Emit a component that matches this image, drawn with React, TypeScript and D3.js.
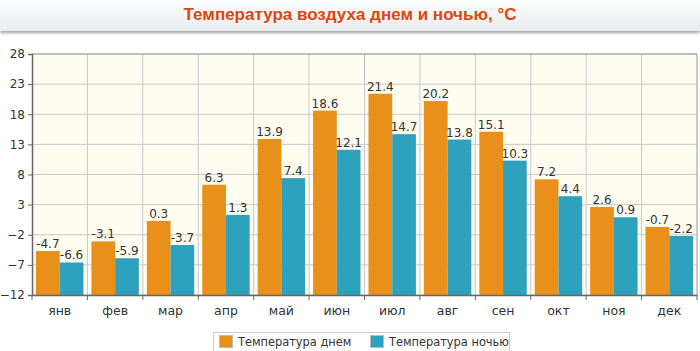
import React, { useEffect, useRef } from "react";
import * as d3 from "d3";

const months = ["янв", "фев", "мар", "апр", "май", "июн", "июл", "авг", "сен", "окт", "ноя", "дек"];
const dayTemps = [-4.7, -3.1, 0.3, 6.3, 13.9, 18.6, 21.4, 20.2, 15.1, 7.2, 2.6, -0.7];
const nightTemps = [-6.6, -5.9, -3.7, 1.3, 7.4, 12.1, 14.7, 13.8, 10.3, 4.4, 0.9, -2.2];
const yTicks = [-12, -7, -2, 3, 8, 13, 18, 23, 28];
const seriesNames = ["Температура днем", "Температура ночью"];
const seriesColors = ["#e8901a", "#2ea2bd"];

const App: React.FC = () => {
  const svgRef = useRef<SVGSVGElement | null>(null);
  const width = 700;
  const height = 351;

  useEffect(() => {
    const svg = d3.select(svgRef.current);
    svg.selectAll("*").remove();

    const left = 32;
    const right = 697;
    const top = 54;
    const bottom = 295;
    const font = "'DejaVu Sans', Verdana, sans-serif";

    // title band
    const defs = svg.append("defs");
    const grad = defs.append("linearGradient").attr("id", "titleGrad").attr("x1", 0).attr("y1", 0).attr("x2", 0).attr("y2", 1);
    grad.append("stop").attr("offset", "0%").attr("stop-color", "#ffffff");
    grad.append("stop").attr("offset", "100%").attr("stop-color", "#e9ecee");
    const shadow = defs.append("filter").attr("id", "shadow").attr("x", "-5%").attr("y", "-20%").attr("width", "110%").attr("height", "160%");
    shadow.append("feDropShadow").attr("dx", 0).attr("dy", 2).attr("stdDeviation", 1.5).attr("flood-color", "#000").attr("flood-opacity", 0.35);

    svg.append("rect").attr("x", 0).attr("y", -5).attr("width", 700).attr("height", 36).attr("fill", "url(#titleGrad)").attr("filter", "url(#shadow)");
    svg
      .append("text")
      .text("Температура воздуха днем и ночью, °C")
      .attr("x", 350)
      .attr("y", 20)
      .attr("text-anchor", "middle")
      .attr("font-family", "'Liberation Sans Narrow', 'Arial Narrow', sans-serif")
      .attr("font-weight", "bold")
      .attr("font-size", "17px")
      .attr("fill", "#de460b");

    const x0 = d3.scaleBand().domain(months).range([left, right]).paddingInner(0).paddingOuter(0);
    const x1 = d3.scaleBand().domain(["0", "1"]).range([4, x0.bandwidth() - 4]);
    const y = d3.scaleLinear().domain([-12, 28]).range([bottom, top]);

    svg.append("rect").attr("x", left).attr("y", top).attr("width", right - left).attr("height", bottom - top).attr("fill", "#fffcf0");

    // grid
    svg
      .append("g")
      .selectAll("line")
      .data(yTicks)
      .enter()
      .append("line")
      .attr("x1", left)
      .attr("x2", right)
      .attr("y1", (d) => y(d))
      .attr("y2", (d) => y(d))
      .attr("stroke", "#c8c8c8");
    svg
      .append("g")
      .selectAll("line")
      .data(months.slice(1))
      .enter()
      .append("line")
      .attr("x1", (d) => x0(d) as number)
      .attr("x2", (d) => x0(d) as number)
      .attr("y1", top)
      .attr("y2", bottom)
      .attr("stroke", "#c8c8c8");

    // bars
    const series = [dayTemps, nightTemps];
    series.forEach((vals, si) => {
      const g = svg.append("g");
      g.selectAll("rect")
        .data(vals)
        .enter()
        .append("rect")
        .attr("x", (d, i) => (x0(months[i]) as number) + (x1(String(si)) as number))
        .attr("y", (d) => y(d))
        .attr("width", x1.bandwidth())
        .attr("height", (d) => y(-12) - y(d))
        .attr("fill", seriesColors[si]);
      g.selectAll("text")
        .data(vals)
        .enter()
        .append("text")
        .text((d) => String(d))
        .attr("x", (d, i) => (x0(months[i]) as number) + (x1(String(si)) as number) + x1.bandwidth() / 2)
        .attr("y", (d) => y(d) - 3)
        .attr("text-anchor", "middle")
        .attr("font-family", font)
        .attr("font-size", "12px")
        .attr("fill", "#333");
    });

    // border
    svg.append("line").attr("x1", left).attr("x2", right).attr("y1", top).attr("y2", top).attr("stroke", "#999");
    svg.append("line").attr("x1", right).attr("x2", right).attr("y1", top).attr("y2", bottom).attr("stroke", "#999");

    // y axis
    const yAxis = d3.axisLeft(y).tickValues(yTicks).tickSize(4).tickPadding(3);
    const yg = svg.append("g").attr("transform", `translate(${left},0)`).call(yAxis);
    yg.select(".domain").attr("stroke", "#666").attr("stroke-width", 1.5);
    yg.selectAll(".tick line").attr("stroke", "#666");
    yg.selectAll(".tick text").attr("font-family", font).attr("font-size", "12px").attr("fill", "#333");

    // x axis
    const xAxis = d3.axisBottom(x0).tickSize(0).tickPadding(11);
    const xg = svg.append("g").attr("transform", `translate(0,${bottom})`).call(xAxis);
    xg.select(".domain").attr("stroke", "#666").attr("stroke-width", 1.5);
    xg.selectAll(".tick text").attr("font-family", font).attr("font-size", "12.5px").attr("fill", "#333");
    xg.selectAll(".sep")
      .data(months.concat(["end"]))
      .enter()
      .append("line")
      .attr("x1", (d, i) => left + i * x0.step())
      .attr("x2", (d, i) => left + i * x0.step())
      .attr("y1", 0)
      .attr("y2", 5)
      .attr("stroke", "#666");

    // legend
    const lg = svg.append("g");
    lg.append("rect").attr("x", 213.5).attr("y", 332.5).attr("width", 296).attr("height", 22).attr("fill", "#fff").attr("stroke", "#ccc");
    const legendX = [219, 370];
    seriesNames.forEach((name, i) => {
      lg.append("rect")
        .attr("x", legendX[i] + 0.5)
        .attr("y", 335.5)
        .attr("width", 13)
        .attr("height", 12)
        .attr("fill", seriesColors[i])
        .attr("stroke", "#bbb");
      lg.append("text")
        .text(name)
        .attr("x", legendX[i] + 19)
        .attr("y", 346)
        .attr("font-family", font)
        .attr("font-size", "11.4px")
        .attr("fill", "#333");
    });
  }, []);

  return (
    <div style={{ position: "absolute", left: 0, top: 0 }}>
      <svg ref={svgRef} width={width} height={height} style={{ display: "block", background: "#fff" }}></svg>
    </div>
  );
};

export default App;
